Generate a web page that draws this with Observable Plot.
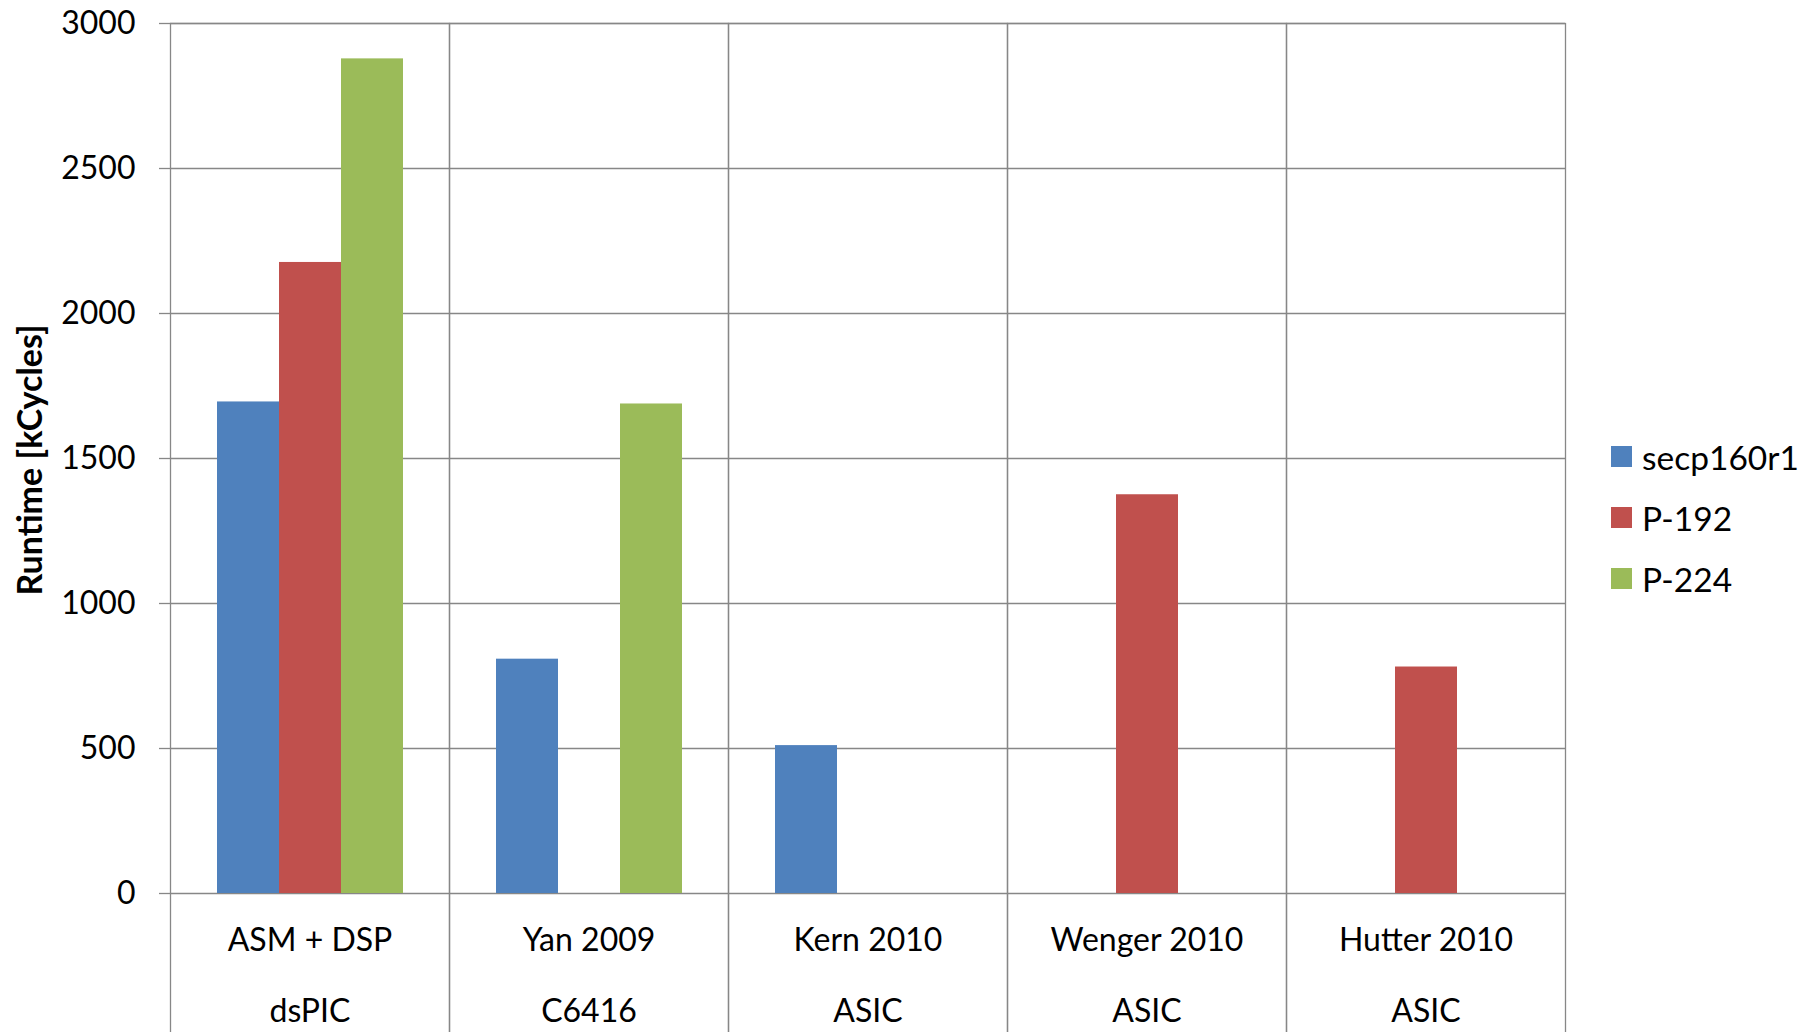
<!DOCTYPE html>
<html><head><meta charset="utf-8">
<script src="https://cdn.jsdelivr.net/npm/d3@7"></script>
<script src="https://cdn.jsdelivr.net/npm/@observablehq/plot@0.6"></script>
<style>
html,body{margin:0;padding:0;background:#fff;overflow:hidden;}
#wrap{position:relative;width:1802px;height:1032px;font-family:Lato,sans-serif;}
#legend{position:absolute;left:1611px;top:426px;}
.item{display:flex;align-items:center;height:61px;font-size:33.5px;color:#000;font-family:Lato,sans-serif;}
.sw{width:21px;height:21px;margin-right:10px;flex:none;}
#ylabel{position:absolute;left:29px;top:460px;transform:translate(-50%,-50%) rotate(-90deg);white-space:nowrap;font-family:Lato,sans-serif;font-weight:bold;font-size:34px;line-height:1;color:#000;}
</style></head><body><div id="wrap"><div id="chart"></div><div id="ylabel"></div><div id="legend"></div></div>
<script>
const categories = ["ASM + DSP", "Yan 2009", "Kern 2010", "Wenger 2010", "Hutter 2010"];
const platforms = ["dsPIC", "C6416", "ASIC", "ASIC", "ASIC"];
const seriesNames = ["secp160r1", "P-192", "P-224"];
const secp160r1 = [1695, 808, 510, null, null];
const p192 = [2176, null, null, 1375, 781];
const p224 = [2878, 1688, null, null, null];
const seriesColors = ["#4F81BD", "#C0504D", "#9BBB59"];
const yTicks = [0, 500, 1000, 1500, 2000, 2500, 3000];
const yLabel = "Runtime [kCycles]";

const seriesValues = [secp160r1, p192, p224];
const data = [];
categories.forEach((c, i) => {
  seriesValues.forEach((arr, j) => {
    if (arr[i] != null) data.push({category: c, series: seriesNames[j], value: arr[i]});
  });
});

const gridColor = "#878787";
const chart = Plot.plot({
  width: 1802, height: 1032,
  marginLeft: 168, marginRight: 236, marginTop: 23, marginBottom: 139,
  style: {fontFamily: "Lato, sans-serif", fontSize: "32px", color: "#000", background: "#fff", overflow: "hidden"},
  fx: {domain: categories, padding: 0, label: null},
  x: {domain: seriesNames, paddingInner: 0, paddingOuter: 0.75, axis: null},
  y: {domain: [0, 3000]},
  color: {domain: seriesNames, range: seriesColors},
  marks: [
    Plot.gridY(yTicks, {stroke: gridColor, strokeOpacity: 1, strokeWidth: 1.3}),
    Plot.frame({stroke: gridColor, strokeWidth: 1.3, insetBottom: -160}),
    Plot.barY(data, {fx: "category", x: "series", y: "value", fill: "series"}),
    Plot.axisY(yTicks, {tickSize: 11, tickPadding: 24, tickFormat: d => String(d), stroke: gridColor, strokeWidth: 1.3, label: null}),
    Plot.axisFx({anchor: "bottom", tickSize: 0, tickPadding: 8, label: null, lineHeight: 2.2,
      tickFormat: c => c + "\n" + platforms[categories.indexOf(c)]})
  ]
});
document.getElementById("chart").appendChild(chart);
document.getElementById("ylabel").textContent = yLabel;

const legend = document.getElementById("legend");
seriesNames.forEach((s, i) => {
  const row = document.createElement("div");
  row.className = "item";
  const sw = document.createElement("div");
  sw.className = "sw";
  sw.style.background = seriesColors[i];
  const t = document.createElement("span");
  t.textContent = s;
  row.appendChild(sw); row.appendChild(t);
  legend.appendChild(row);
});
</script></body></html>
